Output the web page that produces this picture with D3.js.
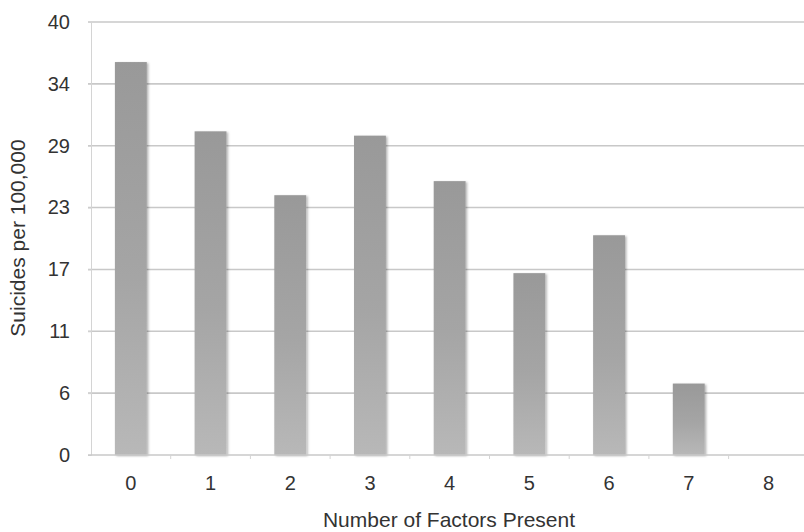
<!DOCTYPE html>
<html><head><meta charset="utf-8">
<script src="https://cdn.jsdelivr.net/npm/d3@7"></script>
<style>body{margin:0;background:#fff}svg{display:block}</style>
</head><body>
<svg id="c" width="804" height="532"></svg>
<script>
const categories = ["0","1","2","3","4","5","6","7","8"];
const values = [36.3, 29.9, 24.0, 29.5, 25.3, 16.8, 20.3, 6.6, 0];
const tickValues = [0, 40/7, 80/7, 120/7, 160/7, 200/7, 240/7, 40];
const tickLabels = ["0","6","11","17","23","29","34","40"];
const yTitle = "Suicides per 100,000";
const xTitle = "Number of Factors Present";

const svg = d3.select("#c");
const mLeft = 91, mTop = 22, mBottom = 455, bandW = 79.7;
const x = d3.scaleBand().domain(categories).range([mLeft, mLeft + bandW*categories.length]).paddingInner(0.6).paddingOuter(0.3);
const y = d3.scaleLinear().domain([0, 40]).range([mBottom, mTop]);
const font = "'Liberation Sans', Arial, sans-serif";

const defs = svg.append("defs");
const g = defs.append("linearGradient").attr("id","bg").attr("x1",0).attr("y1",0).attr("x2",0).attr("y2",1);
g.append("stop").attr("offset","0%").attr("stop-color","#999999");
g.append("stop").attr("offset","55%").attr("stop-color","#a5a5a5");
g.append("stop").attr("offset","100%").attr("stop-color","#b8b8b8");
const f = defs.append("filter").attr("id","sh").attr("x","-20%").attr("y","-5%").attr("width","150%").attr("height","120%");
f.append("feDropShadow").attr("dx",1.5).attr("dy",1).attr("stdDeviation",1.2).attr("flood-color","#000").attr("flood-opacity",0.3);

// gridlines
svg.append("g").selectAll("line").data(tickValues.slice(1)).join("line")
  .attr("x1", mLeft - 3).attr("x2", 804).attr("y1", d => y(d)).attr("y2", d => y(d))
  .attr("stroke", "#c8c8c8").attr("stroke-width", 1.6);

// y axis
const ya = svg.append("g").attr("transform", `translate(${mLeft},0)`)
  .call(d3.axisLeft(y).tickValues(tickValues).tickFormat((d,i) => tickLabels[i]).tickSize(3).tickPadding(18));
ya.select(".domain").attr("stroke", "#d4d4d4");
ya.selectAll(".tick line").attr("stroke", "#d4d4d4");
ya.selectAll("text").attr("font-family", font).attr("font-size", 20).attr("fill", "#333");

// bars
svg.append("g").selectAll("rect").data(values).join("rect")
  .attr("x", (d,i) => x(categories[i])).attr("width", x.bandwidth())
  .attr("y", d => y(d)).attr("height", d => y(0) - y(d))
  .attr("fill", "url(#bg)").attr("filter", "url(#sh)");

// x axis
const xb = d3.scaleLinear().domain([0, categories.length]).range([mLeft, mLeft + bandW*categories.length]);
const xa = svg.append("g").attr("transform", `translate(0,${mBottom})`);
xa.append("line").attr("x1", mLeft-3).attr("x2", 804).attr("stroke", "#c8c8c8").attr("stroke-width", 1.6);
xa.selectAll(".tk").data(d3.range(1, categories.length)).join("line")
  .attr("x1", d => xb(d)).attr("x2", d => xb(d)).attr("y1", 0).attr("y2", 4).attr("stroke", "#d4d4d4");
xa.selectAll("text").data(categories).join("text")
  .attr("x", d => x(d) + x.bandwidth()/2).attr("y", 35)
  .attr("text-anchor", "middle").attr("font-family", font).attr("font-size", 20).attr("fill", "#333")
  .text(d => d);

svg.append("text").attr("x", 449).attr("y", 527).attr("text-anchor","middle")
  .attr("font-family", font).attr("font-size", 21).attr("fill", "#333").text(xTitle);
svg.append("text").attr("transform", "translate(25,238) rotate(-90)").attr("text-anchor","middle")
  .attr("font-family", font).attr("font-size", 21).attr("fill", "#333").text(yTitle);
</script>
</body></html>
